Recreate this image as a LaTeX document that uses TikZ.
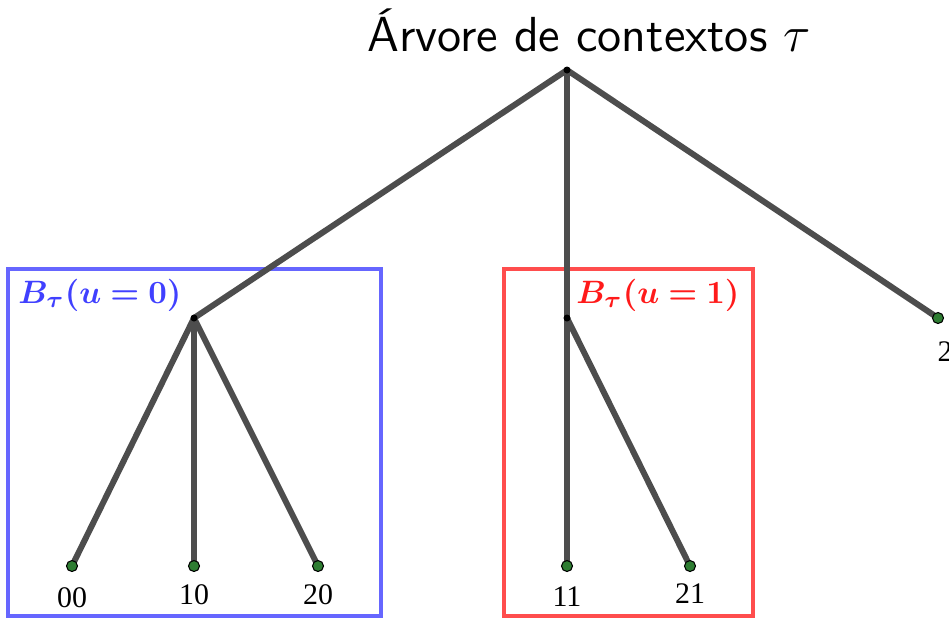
\documentclass[tikz,border=0pt]{standalone}
\usepackage{fontspec}
\newfontfamily\leaffont{Liberation Serif}
\usepackage{bm}
\usepackage{tikz}
\definecolor{edgegray}{HTML}{4d4d4d}
\definecolor{boxblue}{HTML}{6666ff}
\definecolor{txtblue}{HTML}{4040ff}
\definecolor{boxred}{HTML}{ff4d4d}
\definecolor{txtred}{HTML}{ff1a1a}
\definecolor{leafgreen}{HTML}{2e7d32}

\tikzset{
  edge/.style={line width=1.7pt, draw=edgegray},
  ctxbox/.style={line width=1.15pt},
  ctxlabel/.style={anchor=west, scale=0.92},
  branchdot/.style={circle, fill=black, inner sep=0pt, minimum size=0.07cm},
  leafdot/.style={circle, fill=leafgreen, draw=black, line width=0.3pt, inner sep=0pt, minimum size=0.11cm},
  leaflabel/.style={font=\leaffont\fontsize{8.5}{10}\selectfont, label distance=1pt},
}

\begin{document}
\begin{tikzpicture}[x=0.01cm, y=-0.01cm]
  \useasboundingbox (0,0) rectangle (949,620);

  % tree points (pixel grid, y down)
  \coordinate (root) at (567,70);
  \coordinate (u0) at (194,318);
  \coordinate (u1) at (567,318);
  \coordinate (l2) at (938,318);
  \foreach \name/\xpos in {l00/72, l10/194, l20/318, l11/567, l21/690} {
    \coordinate (\name) at (\xpos,566);
  }

  % context boxes
  \draw[ctxbox, boxblue] (8,269) rectangle (381,616);
  \draw[ctxbox, boxred] (504,269) rectangle (753,616);
  \node[ctxlabel, text=txtblue] (lab0) at (7,295) {$\bm{B_\tau(u=0)}$};
  \node[ctxlabel, text=txtred] (lab1) at (565,295) {$\bm{B_\tau(u=1)}$};

  % edges
  \foreach \a/\b in {root/u0, root/u1, root/l2, u0/l00, u0/l10, u0/l20, u1/l11, u1/l21} {
    \draw[edge] (\a) -- (\b);
  }

  % dots
  \node[branchdot] (root dot) at (root) {};
  \node[branchdot] (u0 dot) at (u0) {};
  \node[branchdot] (u1 dot) at (u1) {};
  \foreach \name/\txt/\gap in {l00/00/1pt, l10/10/0pt, l20/20/0pt, l11/11/0.6pt, l21/21/-0.2pt} {
    \node[leafdot, label={[leaflabel, label distance=\gap]below:\txt}] (\name dot) at (\name) {};
  }
  \node[leafdot, label={[leaflabel, label distance=1.6pt, xshift=2pt]below:2}] (l2 dot) at (l2) {};

  % title
  \node[font=\sffamily\fontsize{14}{17}\selectfont] (title) at (589,30) {Árvore de contextos $\tau$};
\end{tikzpicture}
\end{document}
